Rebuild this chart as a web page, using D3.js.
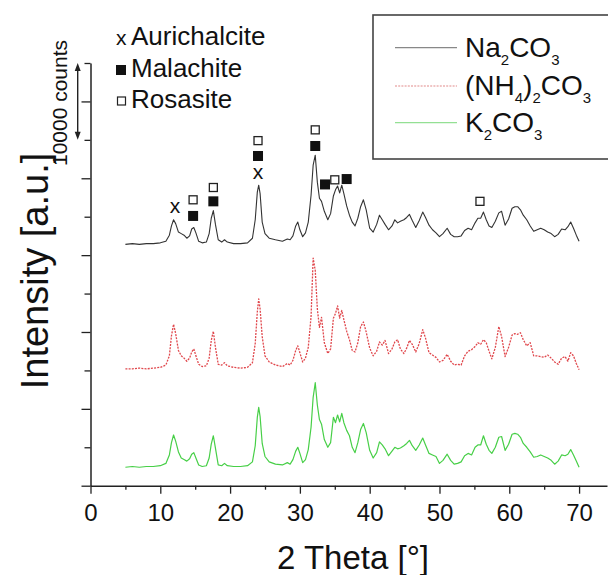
<!DOCTYPE html>
<html>
<head>
<meta charset="utf-8">
<script src="https://cdn.jsdelivr.net/npm/d3@7"></script>
<style>
  html, body { margin: 0; padding: 0; background: #fff; }
  svg { display: block; font-family: "Liberation Sans", Arial, sans-serif; }
</style>
</head>
<body>
<svg id="chart" width="608" height="575"></svg>
<script>
// 2θ positions (degrees) shared by the three diffractograms
const twoTheta = [
  5, 6, 7, 8, 9, 10, 10.8, 11.3, 11.6, 11.9,
  12.2, 12.6, 13.0, 13.4, 13.8, 14.2, 14.5, 14.8, 15.1, 15.5,
  16.0, 16.6, 17.0, 17.3, 17.6, 17.9, 18.3, 18.8, 19.2, 19.6,
  20.5, 21.5, 22.5, 23.2, 23.6, 23.9, 24.1, 24.3, 24.6, 25.0,
  25.6, 26.5, 27.5, 28.2, 28.6, 29.0, 29.4, 29.7, 30.0, 30.4,
  30.8, 31.2, 31.6, 31.9, 32.2, 32.5, 32.8, 33.1, 33.5, 34.0,
  34.4, 34.8, 35.1, 35.4, 35.7, 36.0, 36.3, 36.7, 37.1, 37.5,
  37.9, 38.3, 38.7, 39.1, 39.5, 40.0, 40.5, 41.0, 41.4, 41.8,
  42.2, 42.7, 43.2, 43.6, 44.0, 44.4, 44.9, 45.3, 45.7, 46.1,
  46.6, 47.1, 47.6, 48.0, 48.5, 49.0, 49.5, 50.0, 50.5, 51.1,
  51.6, 52.1, 52.6, 53.1, 53.6, 54.1, 54.6, 55.1, 55.5, 55.9,
  56.3, 56.7, 57.1, 57.5, 58.0, 58.5, 58.9, 59.4, 59.9, 60.4,
  60.8, 61.2, 61.6, 62.0, 62.5, 63.0, 63.5, 64.0, 64.5, 65.0,
  65.5, 66.0, 66.5, 67.0, 67.5, 68.0, 68.4, 68.8, 69.2, 69.6,
  70.0
];

// Intensities in thousands of counts, stacked with a vertical offset per precipitant
const naCO3 = [
  31.4, 31.5, 31.4, 31.5, 31.5, 31.6, 31.8, 32.6, 33.8, 34.6,
  34.1, 33.0, 32.8, 32.6, 32.2, 32.5, 33.4, 33.6, 32.9, 31.8,
  31.6, 31.7, 32.8, 34.8, 35.8, 34.0, 32.0, 31.7, 32.0, 31.7,
  31.5, 31.5, 31.6, 32.2, 34.6, 38.2, 39.1, 38.0, 34.3, 32.8,
  32.2, 32.0, 31.8, 32.1, 32.0, 32.5, 33.8, 34.3, 33.3, 32.4,
  32.9, 34.3, 37.8, 41.7, 43.0, 39.5, 37.4, 37.0, 35.7, 34.6,
  35.4, 37.7, 38.5, 39.0, 38.1, 39.1, 38.0, 36.4, 35.2, 34.3,
  33.8, 34.8, 36.3, 37.2, 35.9, 33.5, 33.0, 34.0, 35.2, 34.6,
  34.0, 33.3, 33.8, 34.6, 34.2, 34.4, 34.6, 34.9, 35.3, 34.5,
  33.6, 34.5, 35.6, 34.9, 33.9, 33.3, 32.9, 32.4, 32.8, 33.5,
  32.7, 32.4, 32.4, 32.5, 33.2, 33.5, 33.3, 34.2, 34.8, 34.8,
  35.6, 34.6, 33.8, 33.6, 34.4, 35.5, 35.7, 33.9, 34.7, 36.1,
  36.3, 36.3, 35.9, 35.2, 34.6, 33.8, 33.1, 33.3, 33.5, 33.3,
  33.0, 32.8, 32.4, 32.7, 33.4, 33.3, 33.7, 34.3, 33.5, 32.6,
  31.8
];

const nh4CO3 = [
  15.2, 15.2, 15.3, 15.2, 15.3, 15.4, 15.7, 16.9, 19.5, 21.0,
  19.8, 17.6, 16.9, 16.6, 16.2, 16.6, 17.4, 17.8, 16.9, 15.8,
  15.5, 15.6, 16.6, 18.9, 20.1, 18.0, 15.8, 15.7, 16.0, 15.6,
  15.4, 15.3, 15.4, 16.0, 18.5, 22.6, 24.3, 23.0, 19.4, 16.9,
  16.1, 15.7, 15.5, 15.9, 15.7, 16.3, 17.6, 18.2, 17.3, 16.1,
  16.6, 18.0, 22.0, 29.6, 28.0, 23.0, 20.6, 21.9, 18.6, 17.2,
  17.8, 21.8, 22.4, 23.4, 21.8, 22.8, 21.6, 20.1, 19.0, 17.6,
  17.4, 18.6, 20.7, 21.3, 20.0, 17.9, 16.9, 17.5, 18.7, 18.3,
  18.9, 17.2, 17.8, 18.7, 19.0, 17.8, 17.2, 17.9, 18.9, 18.4,
  17.4, 18.5, 20.3, 19.2, 17.3, 17.0, 16.7, 16.1, 16.3, 17.1,
  16.2, 15.7, 15.8, 15.7, 16.9, 17.5, 17.7, 18.1, 18.6, 18.4,
  19.0, 18.6, 17.5, 16.5, 18.0, 20.7, 19.4, 16.8, 18.0, 19.6,
  19.8, 19.7, 19.9, 19.0, 18.2, 18.6, 16.9, 16.9, 16.8, 16.7,
  17.0, 16.6, 16.1, 15.8, 16.6, 16.8, 16.2, 17.3, 16.9, 15.9,
  15.1
];

const kCO3 = [
  2.4, 2.5, 2.4, 2.5, 2.5, 2.6, 2.9, 4.0, 5.6, 6.6,
  5.8, 4.4, 3.6, 3.4, 3.2, 3.5, 4.1, 4.3, 3.6, 2.7,
  2.5, 2.6, 3.6, 5.4, 6.5, 4.9, 2.7, 2.6, 2.9, 2.6,
  2.5, 2.5, 2.6, 3.1, 5.2, 8.9, 10.2, 9.0, 5.5, 3.8,
  3.1, 2.8, 2.7, 3.0, 2.8, 3.4, 4.5, 5.0, 4.2, 3.0,
  3.4, 4.7, 7.6, 11.5, 13.4, 10.5, 8.6, 8.0, 6.0, 5.0,
  5.6, 8.9, 8.2, 9.2, 8.3, 9.4, 8.2, 7.2, 6.5, 5.0,
  4.3, 5.6, 7.3, 8.1, 6.9, 4.6, 3.6, 4.3, 5.7, 5.3,
  4.8, 3.9, 4.5, 5.0, 4.8, 4.9, 5.2, 5.5, 5.9, 5.2,
  4.6, 5.3, 6.2, 5.3, 4.2, 4.0, 3.8, 2.9, 3.3, 4.1,
  3.3, 2.8, 2.9, 3.1, 3.9, 4.2, 4.0, 5.0, 5.3, 5.3,
  6.5, 5.4, 4.6, 4.2, 5.0, 6.3, 6.4, 4.6, 5.4, 6.7,
  6.8, 6.7, 6.3, 5.5, 5.0, 4.4, 3.7, 3.8, 4.0, 3.8,
  3.6, 3.3, 2.8, 3.2, 4.0, 3.9, 4.1, 4.7, 4.0, 3.2,
  2.4
];

// Axis ticks
const xTickValues = [0, 10, 20, 30, 40, 50, 60, 70];
const xMinorTicks = [5, 15, 25, 35, 45, 55, 65];
const yMajorTicks = [0, 10, 20, 30, 40, 50];
const yMinorTicks = [5, 15, 25, 35, 45, 55];

// Phase reflections: 2θ and label height (thousands of counts)
const aurichalcite = [[12.1, 36.2], [24.0, 40.7]];
const malachite = [[14.7, 35.1], [17.6, 37.0], [24.0, 42.9], [32.2, 44.2], [33.6, 39.2], [36.7, 39.9]];
const rosasite = [[14.7, 37.2], [17.6, 38.8], [24.0, 44.9], [32.2, 46.3], [35.0, 39.8], [55.8, 37.0]];

// Scale bar: 10000 counts measured down from the top of the axis
const scaleBarTop = 55;
const scaleBarCounts = 10000;

const phaseLabels = ["Aurichalcite", "Malachite", "Rosasite"];

const series = [
  { parts: [["Na", 0], ["2", 1], ["CO", 0], ["3", 1]], values: naCO3, color: "#333", legendColor: "#888", width: 1.1, dash: null },
  { parts: [["(NH", 0], ["4", 1], [")", 0], ["2", 1], ["CO", 0], ["3", 1]], values: nh4CO3, color: "#e0474c", legendColor: "#e28a8a", width: 1.3, dash: "2,1.2" },
  { parts: [["K", 0], ["2", 1], ["CO", 0], ["3", 1]], values: kCO3, color: "#47cf47", legendColor: "#94e094", width: 1.2, dash: null }
];

const svg = d3.select("#chart");

const x = d3.scaleLinear().domain([0, 74]).range([90.5, 607]);
const y = d3.scaleLinear().domain([0, 55]).range([485.7, 63]);

// Curves
const line = d3.line()
  .x((d, i) => x(twoTheta[i]))
  .y(d => y(d));

series.forEach(s => {
  svg.append("path")
    .datum(s.values)
    .attr("d", line)
    .attr("fill", "none")
    .attr("stroke", s.color)
    .attr("stroke-width", s.width)
    .attr("stroke-linejoin", "round")
    .attr("stroke-dasharray", s.dash);
});

// X axis
const axisColor = "#222";
const xAxis = svg.append("g").attr("transform", `translate(0,${y(0)})`)
  .call(d3.axisBottom(x).tickValues(xTickValues).tickSize(8).tickPadding(4).tickSizeOuter(0));
svg.append("g").attr("transform", `translate(0,${y(0)})`)
  .call(d3.axisBottom(x).tickValues(xMinorTicks).tickSize(4).tickFormat("").tickSizeOuter(0))
  .select(".domain").remove();
xAxis.select(".domain").attr("stroke", axisColor).attr("stroke-width", 1.5);
xAxis.selectAll(".tick text")
  .attr("y", 35)
  .attr("dy", null)
  .attr("font-size", 24)
  .attr("fill", "#111")
  .attr("font-family", "Liberation Sans, Arial, sans-serif");
svg.selectAll(".tick line").attr("stroke", axisColor).attr("stroke-width", 1.3);

// Y axis (arbitrary units, no labels)
const yAxis = svg.append("g").attr("transform", `translate(${x(0)},0)`)
  .call(d3.axisLeft(y).tickValues(yMajorTicks).tickSize(9).tickFormat("").tickSizeOuter(0));
yAxis.select(".domain").attr("stroke", axisColor).attr("stroke-width", 1.5);
yAxis.selectAll(".tick line").attr("stroke", axisColor).attr("stroke-width", 1.3);
const yMinor = svg.append("g").attr("transform", `translate(${x(0)},0)`)
  .call(d3.axisLeft(y).tickValues(yMinorTicks).tickSize(6).tickFormat("").tickSizeOuter(0));
yMinor.select(".domain").remove();
yMinor.selectAll(".tick line").attr("stroke", axisColor).attr("stroke-width", 1.3);

// Axis titles
svg.append("text")
  .attr("x", 353)
  .attr("y", 569)
  .attr("text-anchor", "middle")
  .attr("font-size", 33)
  .attr("fill", "#111")
  .text("2 Theta [°]");

svg.append("text")
  .attr("transform", `translate(48,271) rotate(-90)`)
  .attr("text-anchor", "middle")
  .attr("font-size", 38)
  .attr("fill", "#111")
  .text("Intensity [a.u.]");

// Scale bar with double arrow
const sbx = 77.7;
const sbTop = y(scaleBarTop);
const sbBottom = y(scaleBarTop - scaleBarCounts / 1000);
svg.append("line")
  .attr("x1", sbx).attr("x2", sbx)
  .attr("y1", sbTop + 4).attr("y2", sbBottom - 4)
  .attr("stroke", "#222").attr("stroke-width", 1.4);
svg.append("path")
  .attr("d", `M${sbx},${sbTop} L${sbx - 3},${sbTop + 8} L${sbx + 3},${sbTop + 8} Z M${sbx},${sbBottom} L${sbx - 3},${sbBottom - 8} L${sbx + 3},${sbBottom - 8} Z`)
  .attr("fill", "#222");
svg.append("text")
  .attr("transform", `translate(67,103) rotate(-90)`)
  .attr("text-anchor", "middle")
  .attr("font-size", 21)
  .attr("fill", "#111")
  .text(`${scaleBarCounts} counts`);

// Phase markers above the Na2CO3 pattern
const marks = svg.append("g");
aurichalcite.forEach(([t, v]) => {
  marks.append("text")
    .attr("x", x(t)).attr("y", y(v) + 6)
    .attr("text-anchor", "middle")
    .attr("font-size", 21)
    .attr("fill", "#111")
    .text("x");
});
malachite.forEach(([t, v]) => {
  marks.append("rect")
    .attr("x", x(t) - 5).attr("y", y(v) - 5)
    .attr("width", 10).attr("height", 10)
    .attr("fill", "#111");
});
rosasite.forEach(([t, v]) => {
  marks.append("rect")
    .attr("x", x(t) - 4).attr("y", y(v) - 4)
    .attr("width", 8).attr("height", 8)
    .attr("fill", "#fff").attr("stroke", "#222").attr("stroke-width", 1.3);
});

// Phase key (top left)
const key = svg.append("g");
const keyY = [45, 77, 108];
key.append("text").attr("x", 116).attr("y", keyY[0]).attr("font-size", 21).attr("fill", "#111").text("x");
key.append("rect").attr("x", 116).attr("y", keyY[1] - 12).attr("width", 10).attr("height", 10).attr("fill", "#111");
key.append("rect").attr("x", 117.5).attr("y", keyY[2] - 11).attr("width", 8).attr("height", 8)
  .attr("fill", "#fff").attr("stroke", "#222").attr("stroke-width", 1.2);
phaseLabels.forEach((p, i) => {
  key.append("text")
    .attr("x", 131)
    .attr("y", keyY[i])
    .attr("font-size", 26)
    .attr("fill", "#111")
    .text(p);
});

// Series legend box (top right)
const legend = svg.append("g");
legend.append("rect")
  .attr("x", 373).attr("y", 15)
  .attr("width", 250).attr("height", 144)
  .attr("fill", "#fff").attr("stroke", "#444").attr("stroke-width", 1.6);
const legY = [56.7, 95, 131.7];
series.forEach((s, i) => {
  legend.append("line")
    .attr("x1", 395).attr("x2", 457)
    .attr("y1", legY[i] - 9).attr("y2", legY[i] - 9)
    .attr("stroke", s.legendColor)
    .attr("stroke-width", 1.2)
    .attr("stroke-dasharray", s.dash);
  const t = legend.append("text")
    .attr("x", 465).attr("y", legY[i])
    .attr("font-size", 28)
    .attr("fill", "#111");
  let shifted = false;
  s.parts.forEach(([str, sub]) => {
    const sp = t.append("tspan").text(str);
    if (sub && !shifted) { sp.attr("dy", 8).attr("font-size", 15); shifted = true; }
    else if (sub) { sp.attr("font-size", 15); }
    else if (!sub && shifted) { sp.attr("dy", -8); shifted = false; }
  });
});
</script>
</body>
</html>
